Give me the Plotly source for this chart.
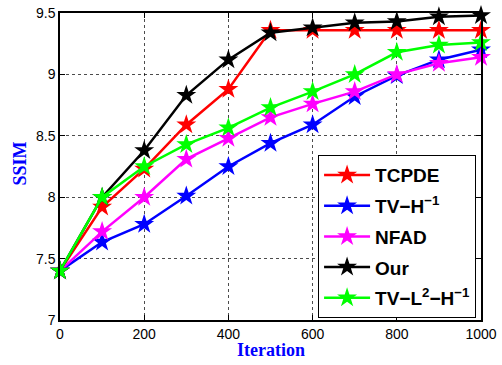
import plotly.graph_objects as go

iterations = [0, 100, 200, 300, 400, 500, 600, 700, 800, 900, 1000]
tcpde = [7.40, 7.92, 8.23, 8.59, 8.88, 9.36, 9.36, 9.36, 9.36, 9.36, 9.36]
tv_h1 = [7.40, 7.635, 7.78, 8.01, 8.25, 8.44, 8.59, 8.82, 8.99, 9.12, 9.20]
nfad = [7.40, 7.72, 8.00, 8.31, 8.48, 8.65, 8.76, 8.86, 9.00, 9.09, 9.14]
our = [7.40, 8.00, 8.38, 8.83, 9.12, 9.34, 9.38, 9.42, 9.43, 9.47, 9.48]
tv_l2_h1 = [7.40, 8.00, 8.25, 8.43, 8.565, 8.73, 8.86, 9.00, 9.18, 9.24, 9.26]

series = [
    ("<b>TCPDE</b>", tcpde, "#ff0000"),
    ("<b>TV\u2212H<sup>\u22121</sup></b>", tv_h1, "#0000ff"),
    ("<b>NFAD</b>", nfad, "#ff00ff"),
    ("<b>Our</b>", our, "#000000"),
    ("<b>TV\u2212L<sup>2</sup>\u2212H<sup>\u22121</sup></b>", tv_l2_h1, "#00ff00"),
]

y_ticks = [7, 7.5, 8, 8.5, 9, 9.5]
y_tick_labels = ["7", "7.5", "8", "8.5", "9", "9.5"]
x_ticks = [0, 200, 400, 600, 800, 1000]

fig = go.Figure()
for i, (name, vals, col) in enumerate(series):
    fig.add_trace(go.Scatter(
        x=iterations, y=vals, name=name, mode="lines+markers",
        line=dict(color=col, width=2.5),
        marker=dict(symbol="star", size=15, color=col, line=dict(width=0)),
        cliponaxis=False, legendgroup=f"g{i}",
    ))

axis_common = dict(
    showline=True, linecolor="black", linewidth=1.5, mirror="ticks",
    ticks="inside", ticklen=5, tickcolor="black",
    showgrid=True, gridcolor="rgba(0,0,0,0.7)", griddash="dot", gridwidth=1,
    zeroline=False, automargin=False, ticklabeloverflow="allow",
    tickfont=dict(family="Liberation Sans, Arial, sans-serif", size=14, color="black"),
)

title_font = dict(family="Liberation Serif, Times New Roman, serif", size=18, color="#0000ff")

fig.update_layout(
    width=502, height=365,
    margin=dict(l=60, r=21, t=13, b=45, autoexpand=False),
    paper_bgcolor="white", plot_bgcolor="white",
    xaxis=dict(range=[0, 1000], tickvals=x_ticks, **axis_common),
    yaxis=dict(range=[7, 9.5], tickvals=y_ticks, ticktext=y_tick_labels, **axis_common),
    legend=dict(
        x=0.613, y=0.537, xanchor="left", yanchor="top",
        bgcolor="white", bordercolor="black", borderwidth=1,
        font=dict(family="Liberation Sans, Arial, sans-serif", size=19, color="black"),
        tracegroupgap=3, itemwidth=46,
    ),
    showlegend=True,
    annotations=[
        dict(text="<b>Iteration</b>", xref="paper", yref="paper", x=0.5, y=-0.098,
             xanchor="center", yanchor="middle", showarrow=False, font=title_font),
        dict(text="<b>SSIM</b>", xref="paper", yref="paper", x=-0.095, y=0.51,
             xanchor="center", yanchor="middle", showarrow=False, textangle=-90, font=title_font),
    ],
)

fig.write_html("out.html", config={"displayModeBar": False},
               post_script="document.body.style.margin='0';")
